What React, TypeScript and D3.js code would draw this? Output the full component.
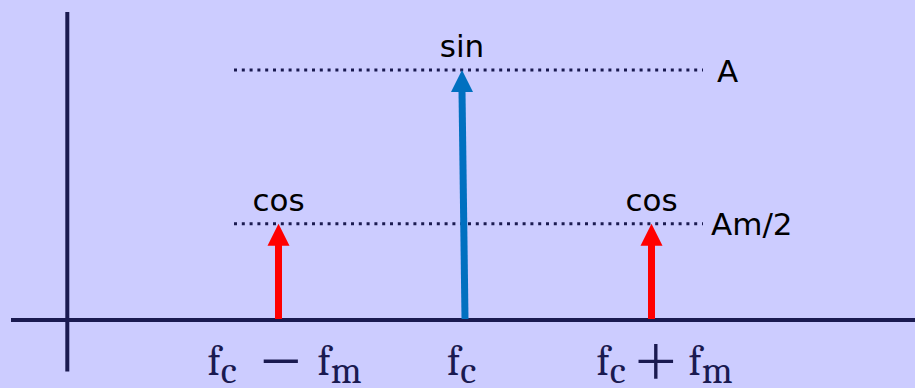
import React from "react";
import * as d3 from "d3";

const W = 915;
const H = 388;

// Spectrum components: offset (in units of fm) from fc, relative amplitude, type label
const offsets = [-1, 0, 1];
const amplitudes = [0.385, 1, 0.385];
const kinds = ["cos", "sin", "cos"];
const colors = ["#FF0000", "#0070C0", "#FF0000"];
// Level labels
const levelValues = [1, 0.385];
const levelLabels = ["A", "Am/2"];
// Frequency tick labels: [main, sub, op, main2, sub2]
const tickLabels = [
  ["f", "c", "\u2212", "f", "m"],
  ["f", "c", "", "", ""],
  ["f", "c", "+", "f", "m"],
];

export default function App() {
  const x = d3.scaleLinear().domain([-1, 1]).range([278.5, 651.5]);
  const y = d3.scaleLinear().domain([0, 1]).range([320, 70]);
  const navy = "#1a1a50";
  const comic = "'Comic Sans MS', 'DejaVu Sans', sans-serif";
  const serif = "'Cambria Math', Cambria, 'DejaVu Serif', serif";
  const headH = 22;
  const headW = 11;
  // label layout offsets relative to the arrow position
  const labelStart = [-71, -18, -55];
  const opStart = [-23.5, 0, -21.5];
  const f2Start = [39, 0, 37];

  return (
    <svg width={W} height={H} style={{ position: "absolute", left: 0, top: 0, display: "block" }}>
      <rect x={0} y={0} width={W} height={H} fill="#CCCCFF" />
      {/* axes */}
      <line x1={67.3} x2={67.3} y1={12} y2={371.5} stroke={navy} strokeWidth={4} />
      <line x1={11} x2={W} y1={y(0)} y2={y(0)} stroke={navy} strokeWidth={4} />
      {/* dotted levels */}
      {levelValues.map((v, i) => (
        <g key={i}>
          <line x1={234} x2={703} y1={y(v)} y2={y(v)} stroke={navy} strokeWidth={3} strokeDasharray="3 4.8" />
          <text x={i === 0 ? 717 : 711} y={y(v) + (i === 0 ? 12 : 11)} fontFamily={comic} fontSize={31} fill="#000">
            {levelLabels[i]}
          </text>
        </g>
      ))}
      {/* arrows */}
      {offsets.map((o, i) => {
        const top = y(amplitudes[i]);
        const xb = x(o);
        const xt = i === 1 ? xb - 3 : xb;
        return (
          <g key={i}>
            <line x1={xb} x2={xt} y1={y(0) - 1} y2={top + headH - 1} stroke={colors[i]} strokeWidth={7} />
            <polygon
              points={`${xt},${top} ${xt - headW},${top + headH} ${xt + headW},${top + headH}`}
              fill={colors[i]}
            />
            <text x={xt} y={top - 13} textAnchor="middle" fontFamily={comic} fontSize={31} fill="#000">
              {kinds[i]}
            </text>
          </g>
        );
      })}
      {/* frequency labels */}
      {offsets.map((o, i) => {
        const t = tickLabels[i];
        const base = x(o);
        return (
          <g key={i} fill={navy}>
            <text x={base + labelStart[i]} y={375} fontSize={42} fontFamily={serif}>
              <tspan>{t[0]}</tspan>
              <tspan fontSize={38} dy={8}>{t[1]}</tspan>
            </text>
            {t[2] && (
              <>
                <text
                  x={base + opStart[i]}
                  y={384}
                  fontSize={80}
                  fontWeight={200}
                  fontFamily="Inter, 'Liberation Sans', sans-serif"
                >
                  {t[2]}
                </text>
                <text x={base + f2Start[i]} y={375} fontSize={42} fontFamily={serif}>
                  <tspan>{t[3]}</tspan>
                  <tspan fontSize={38} dy={8}>{t[4]}</tspan>
                </text>
              </>
            )}
          </g>
        );
      })}
    </svg>
  );
}
